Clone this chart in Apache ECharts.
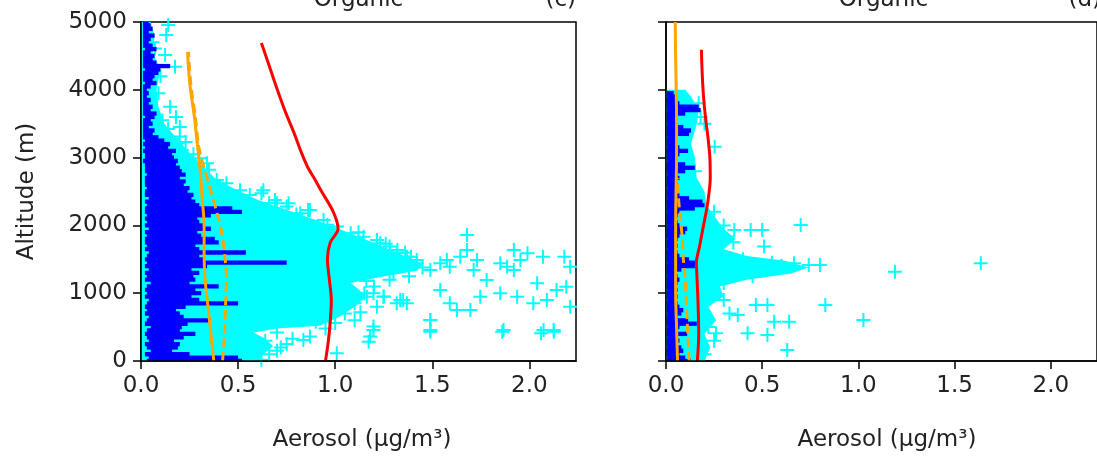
<!DOCTYPE html>
<html>
<head>
<meta charset="utf-8">
<script src="https://cdn.jsdelivr.net/npm/echarts@6/dist/echarts.min.js"></script>
<style>html,body{margin:0;padding:0;background:#fff}#c{width:1097px;height:458px}</style>
</head>
<body>
<div id="c"></div>
<script>
// ---------- tick labels ----------
const xTicks = [0, 0.5, 1.0, 1.5, 2.0];
const yTicks = [0, 1000, 2000, 3000, 4000, 5000];
const panelTitles = ['Organic', 'Organic'];
const panelTags = ['(c)', '(d)'];

// ---------- panel (c) ----------
// model profiles [aerosol, altitude]
const redC = [[0.95,0],[0.965,300],[0.975,600],[0.98,900],[0.97,1200],[0.96,1500],[0.975,1750],[1.015,1950],[0.99,2200],[0.93,2500],[0.895,2680],[0.86,2850],[0.825,3080],[0.79,3350],[0.74,3700],[0.69,4100],[0.655,4400],[0.62,4690]];
const orangeC = [[0.375,0],[0.36,400],[0.345,800],[0.33,1200],[0.325,1600],[0.325,2000],[0.315,2400],[0.305,2800],[0.29,3200],[0.275,3600],[0.255,4000],[0.245,4300],[0.24,4560]];
const orangeDashC = [[0.42,0],[0.43,400],[0.435,800],[0.44,1200],[0.43,1600],[0.415,1900],[0.39,2200],[0.36,2500],[0.33,2800],[0.31,3000],[0.295,3200],[0.28,3600],[0.26,4000],[0.25,4300],[0.245,4560]];
// observed mean profile, 50 m bins from 0 m
const blueAltC = [0,50,100,150,200,250,300,350,400,450,500,550,600,650,700,750,800,850,900,950,1000,1050,1100,1150,1200,1250,1300,1350,1400,1450,1500,1550,1600,1650,1700,1750,1800,1850,1900,1950,2000,2050,2100,2150,2200,2250,2300,2350,2400,2450,2500,2550,2600,2650,2700,2750,2800,2850,2900,2950,3000,3050,3100,3150,3200,3250,3300,3350,3400,3450,3500,3550,3600,3650,3700,3750,3800,3850,3900,3950,4000,4050,4100,4150,4200,4250,4300,4350,4400,4450,4500,4550,4600,4650,4700,4750,4800,4850,4900,4950,5000];
const blueHiC = [0.52,0.50,0.25,0.16,0.19,0.2,0.17,0.22,0.28,0.2,0.21,0.24,0.36,0.22,0.2,0.18,0.23,0.5,0.3,0.26,0.31,0.28,0.4,0.25,0.28,0.27,0.3,0.26,0.34,0.75,0.33,0.3,0.54,0.3,0.28,0.4,0.38,0.31,0.29,0.36,0.33,0.3,0.29,0.36,0.52,0.47,0.3,0.28,0.26,0.27,0.24,0.25,0.22,0.23,0.2,0.23,0.21,0.2,0.18,0.19,0.17,0.16,0.18,0.14,0.15,0.12,0.09,0.06,0.07,0.04,0.06,0.05,0.07,0.08,0.05,0.06,0.04,0.05,0.03,0.04,0.03,0.05,0.08,0.06,0.07,0.09,0.1,0.15,0.08,0.06,0.07,0.05,0.08,0.06,0.04,0.05,0.07,0.04,0.06,0.05,0.04];
const blueLoC = [0.03,0.04,0.02,0.05,0.03,0.02,0.04,0.03,0.02,0.03,0.05,0.02,0.03,0.04,0.02,0.03,0.02,0.03,0.04,0.02,0.03,0.02,0.03,0.05,0.02,0.03,0.02,0.04,0.02,0.03,0.02,0.03,0.04,0.02,0.03,0.02,0.02,0.03,0.02,0.04,0.02,0.03,0.02,0.03,0.02,0.02,0.03,0.02,0.04,0.02,0.02,0.03,0.02,0.02,0.02,0.03,0.02,0.02,0.02,0.01,0.02,0.02,0.01,0.02,0.01,0.02,0.01,0.01,0.01,0.01,0.01,0.01,0.02,0.01,0.01,0.01,0.01,0.01,0.01,0.01,0.01,0.01,0.02,0.01,0.01,0.01,0.02,0.01,0.01,0.01,0.01,0.01,0.02,0.01,0.01,0.01,0.01,0.01,0.01,0.01,0.01];
// dense observation cloud outline [aerosol, altitude]
const cloudC = [[0,0],[0.6,0],[0.64,120],[0.68,220],[0.64,330],[0.58,420],[0.7,480],[0.92,520],[1.02,650],[1.1,800],[1.16,950],[1.12,1060],[1.08,1150],[1.22,1230],[1.42,1330],[1.45,1420],[1.38,1520],[1.3,1620],[1.2,1740],[1.1,1860],[1.0,1970],[0.9,2080],[0.76,2220],[0.6,2380],[0.48,2540],[0.38,2700],[0.31,2900],[0.24,3100],[0.18,3300],[0.12,3500],[0.09,3750],[0.08,4000],[0.1,4300],[0.06,4550],[0.07,4800],[0.05,5000],[0,5000]];
// individual observations [aerosol, altitude]
const obsC = [[0.14,4955],[0.13,4810],[0.072,4610],[0.124,4515],[0.175,4340],[0.1,4200],[0.15,3750],[0.09,3950],[0.06,4700],[0.11,3550],[0.2,3450],[0.18,3600],
[0.2,3310],[0.3,2990],[0.34,2917],[0.39,2670],[0.51,2520],[0.63,2520],[0.7,2326],[0.75,2277],[0.82,2178],[0.87,2228],[0.94,2080],[1.01,1982],[1.08,1883],[1.146,1834],[1.215,1785],[1.28,1687],[1.32,1637],[1.39,1539],[1.42,1490],
[0.19,3210],[0.21,3112],[0.62,2473],[0.69,2375],[0.76,2326],[0.86,2227],
[1.008,113],[0.87,360],[0.836,310],[1.197,508],[1.18,360],[1.335,900],[1.369,850],[1.49,606],[1.49,458],[1.867,458],[2.073,458],[2.125,458],
[1.679,1858],[1.92,1637],[1.99,1588],[2.07,1538],[2.18,1538],[2.21,1391],[1.85,1440],[1.885,1391],[1.954,1490],[1.92,1342],[1.644,1538],[1.679,1637],[1.73,1490],[1.713,1342],[1.541,1440],[1.575,1490],[1.59,1391],[1.49,1342],[1.42,1440],[1.37,1538],[1.317,1588],[1.283,1637],[1.232,1735],
[1.35,899],[1.317,850],[1.197,998],[1.163,948],[1.215,801],[1.249,948],[1.541,1047],[1.59,850],[1.627,752],[1.696,752],[1.747,948],[1.78,1194],[1.85,998],[1.937,948],[2.04,1145],[2.02,850],[2.09,899],[2.14,1047],[2.19,1096],[2.21,801],
[1.49,604],[1.49,432],[1.197,457],[1.172,285],[1.86,432],[2.06,408],[2.126,432],
[1.15,1000],[1.2,1100],[1.25,950],[1.1,850],[1.28,1200],[1.16,1180],[1.05,700],[1.1,600],[1.0,560],[0.95,480],[0.75,250],[0.7,150],[0.72,200],[0.62,20],[0.66,100],[0.78,330],[1.3,1300],[1.38,1250],[1.45,1380],[1.1,1300],
[0.27,3050],[0.35,2820],[0.44,2620],[0.56,2450],[0.66,2330],[0.8,2160],[0.96,2010],[1.12,1900],[1.26,1730],[1.36,1600],[0.23,3230],[0.14,3420],[1.0,1200],[1.05,1100],[0.7,420],[0.64,300],[0.9,580],[1.13,720]];

// ---------- panel (d) ----------
const redD = [[0.163,0],[0.17,400],[0.166,900],[0.16,1300],[0.158,1450],[0.175,1700],[0.195,2000],[0.215,2300],[0.23,2700],[0.228,3000],[0.22,3250],[0.205,3600],[0.195,3900],[0.188,4250],[0.184,4590]];
const orangeD = [[0.06,0],[0.055,500],[0.05,1000],[0.05,1500],[0.05,2000],[0.052,2500],[0.055,3000],[0.055,3500],[0.053,4000],[0.05,4500],[0.048,5000]];
const orangeDashD = [[0.12,0],[0.115,300],[0.11,600],[0.105,900],[0.1,1200],[0.09,1500],[0.085,1800],[0.075,2100],[0.065,2400],[0.06,2700]];
const blueAltD = [0,50,100,150,200,250,300,350,400,450,500,550,600,650,700,750,800,850,900,950,1000,1050,1100,1150,1200,1250,1300,1350,1400,1450,1500,1550,1600,1650,1700,1750,1800,1850,1900,1950,2000,2050,2100,2150,2200,2250,2300,2350,2400,2450,2500,2550,2600,2650,2700,2750,2800,2850,2900,2950,3000,3050,3100,3150,3200,3250,3300,3350,3400,3450,3500,3550,3600,3650,3700,3750,3800,3850,3900,3950];
const blueHiD = [0.13,0.1,0.07,0.09,0.08,0.06,0.07,0.06,0.11,0.06,0.07,0.16,0.115,0.06,0.08,0.09,0.07,0.06,0.05,0.06,0.05,0.06,0.05,0.06,0.07,0.06,0.05,0.08,0.15,0.16,0.12,0.07,0.06,0.05,0.06,0.05,0.06,0.07,0.1,0.11,0.07,0.06,0.05,0.06,0.07,0.15,0.2,0.19,0.12,0.07,0.06,0.05,0.06,0.05,0.07,0.06,0.1,0.15,0.1,0.06,0.05,0.07,0.115,0.07,0.06,0.05,0.06,0.12,0.13,0.09,0.06,0.05,0.06,0.1,0.18,0.17,0.07,0.06,0.05,0.04];
const blueLoD = [0.005,0.006,0.005,0.004,0.006,0.005,0.005,0.006,0.004,0.005,0.006,0.005,0.004,0.005,0.006,0.005,0.005,0.004,0.006,0.005,0.005,0.006,0.004,0.005,0.005,0.006,0.005,0.004,0.005,0.006,0.005,0.005,0.004,0.006,0.005,0.005,0.006,0.004,0.005,0.005,0.006,0.005,0.004,0.005,0.006,0.005,0.005,0.004,0.006,0.005,0.005,0.006,0.004,0.005,0.005,0.006,0.005,0.004,0.005,0.006,0.005,0.005,0.004,0.006,0.005,0.005,0.006,0.004,0.005,0.005,0.006,0.005,0.004,0.005,0.006,0.005,0.005,0.004,0.006,0.005];
const cloudD = [[0,0],[0.2,0],[0.23,200],[0.2,400],[0.26,600],[0.22,800],[0.3,950],[0.28,1100],[0.42,1200],[0.65,1290],[0.74,1380],[0.62,1480],[0.42,1550],[0.3,1650],[0.36,1800],[0.3,1950],[0.26,2100],[0.21,2300],[0.2,2500],[0.16,2700],[0.15,3000],[0.13,3200],[0.16,3500],[0.17,3700],[0.13,3900],[0.1,4000],[0,4000]];
const obsD = [[0.253,3161],[0.70,2006],[0.5,1932],[0.44,1932],[0.355,1932],[0.51,1687],[0.742,1415],[0.80,1415],[0.665,1440],[1.19,1317],[1.636,1440],[0.828,825],[1.026,604],[0.467,825],[0.527,825],[0.562,579],[0.64,579],[0.373,678],[0.33,702],[0.424,408],[0.527,383],[0.26,408],[0.63,162],
[0.25,2200],[0.3,2000],[0.28,1700],[0.35,1750],[0.4,1500],[0.55,1450],[0.6,1400],[0.3,1150],[0.25,1000],[0.3,900],[0.22,500],[0.25,300],[0.2,100],[0.18,3600],[0.17,3800],[0.2,3500],[0.15,2800],[0.45,1250],[0.5,1330],[0.35,1300]];

// ---------- chart ----------
const FONT = 'DejaVu Sans';
const TXT = '#222';
const PLUS = 'path://M6,0H8V6H14V8H8V14H6V8H0V6H6Z';

function grid(left){ return {left:left, top:22, width:435, height:339, show:true, borderColor:'#000', borderWidth:1.5, backgroundColor:'#fff'}; }
function xAxis(i){
  return {type:'value', gridIndex:i, min:0, max:2.24, z:10,
    axisLine:{show:true, onZero:false, lineStyle:{color:'#000', width:1.5}},
    axisTick:{show:true, length:8, customValues:xTicks, lineStyle:{color:'#000', width:1.5}},
    axisLabel:{customValues:xTicks, formatter:v=>v.toFixed(1), fontFamily:FONT, fontSize:23, color:TXT, margin:14},
    splitLine:{show:false}};
}
function yAxis(i, labels){
  return {type:'value', gridIndex:i, min:0, max:5000, z:10,
    axisLine:{show:true, onZero:false, lineStyle:{color:'#000', width:1.5}},
    axisTick:{show:true, length:8, customValues:yTicks, lineStyle:{color:'#000', width:1.5}},
    axisLabel:{show:labels, customValues:yTicks, formatter:v=>String(Math.round(v)), fontFamily:FONT, fontSize:23, color:TXT, margin:14},
    splitLine:{show:false}};
}
function cloud(points, i){
  return {type:'custom', xAxisIndex:i, yAxisIndex:i, data:points, clip:true, silent:true, z:1, encode:{x:0, y:1},
    renderItem:(params, api)=>{
      if (params.dataIndex !== 0) return null;
      return {type:'polygon', shape:{points: points.map(p=>api.coord(p))}, style:{fill:'#00ffff'}};
    }};
}
function obs(points, i){
  return {type:'scatter', xAxisIndex:i, yAxisIndex:i, data:points, symbol:PLUS, symbolSize:14, clip:true, silent:true, z:2,
    itemStyle:{color:'#00ffff', opacity:1}};
}
function blue(alts, lo, hi, i){
  const rows = alts.map((a,k)=>[a, lo[k], hi[k]]);
  return {type:'custom', xAxisIndex:i, yAxisIndex:i, data:rows, clip:true, silent:true, z:3, encode:{x:[1,2], y:0},
    renderItem:(params, api)=>{
      const a = api.value(0), l = api.value(1), h = api.value(2);
      const p1 = api.coord([l, a+32]), p2 = api.coord([h, a-32]);
      return {type:'rect', shape:{x:p1[0], y:p1[1], width:p2[0]-p1[0], height:p2[1]-p1[1]}, style:{fill:'#0000ff'}};
    }};
}
function line(points, i, color, dashed, z){
  return {type:'line', xAxisIndex:i, yAxisIndex:i, data:points, showSymbol:false, symbol:'none', smooth:0.3, clip:true, silent:true, z:z,
    lineStyle:{color:color, width:3, type: dashed ? [9,5] : 'solid'}};
}

const chart = echarts.init(document.getElementById('c'), null, {renderer:'canvas'});
chart.setOption({
  animation:false,
  backgroundColor:'#fff',
  grid:[grid(141), grid(666)],
  xAxis:[xAxis(0), xAxis(1)],
  yAxis:[yAxis(0,true), yAxis(1,false)],
  series:[
    cloud(cloudC,0), obs(obsC,0), blue(blueAltC, blueLoC, blueHiC, 0),
    line(orangeC,0,'#ffa500',false,4), line(orangeDashC,0,'#ffa500',true,4), line(redC,0,'#ff0000',false,5),
    cloud(cloudD,1), obs(obsD,1), blue(blueAltD, blueLoD, blueHiD, 1),
    line(orangeD,1,'#ffa500',false,4), line(orangeDashD,1,'#ffa500',true,4), line(redD,1,'#ff0000',false,5)
  ],
  graphic:[
    {type:'text', x:358.5, y:0, style:{text:panelTitles[0], font:'23px "DejaVu Sans"', fill:TXT, align:'center', verticalAlign:'middle'}},
    {type:'text', x:576, y:0, style:{text:panelTags[0], font:'23px "DejaVu Sans"', fill:TXT, align:'right', verticalAlign:'middle'}},
    {type:'text', x:883.5, y:0, style:{text:panelTitles[1], font:'23px "DejaVu Sans"', fill:TXT, align:'center', verticalAlign:'middle'}},
    {type:'text', x:1101, y:0, style:{text:panelTags[1], font:'23px "DejaVu Sans"', fill:TXT, align:'right', verticalAlign:'middle'}},
    {type:'text', x:27, y:191.5, rotation:Math.PI/2, style:{text:'Altitude (m)', font:'23px "DejaVu Sans"', fill:TXT, align:'center', verticalAlign:'middle'}},
    {type:'text', x:362, y:440, style:{text:'Aerosol (μg/m³)', font:'23px "DejaVu Sans"', fill:TXT, align:'center', verticalAlign:'middle'}},
    {type:'text', x:887, y:440, style:{text:'Aerosol (μg/m³)', font:'23px "DejaVu Sans"', fill:TXT, align:'center', verticalAlign:'middle'}}
  ]
});
</script>
</body>
</html>
